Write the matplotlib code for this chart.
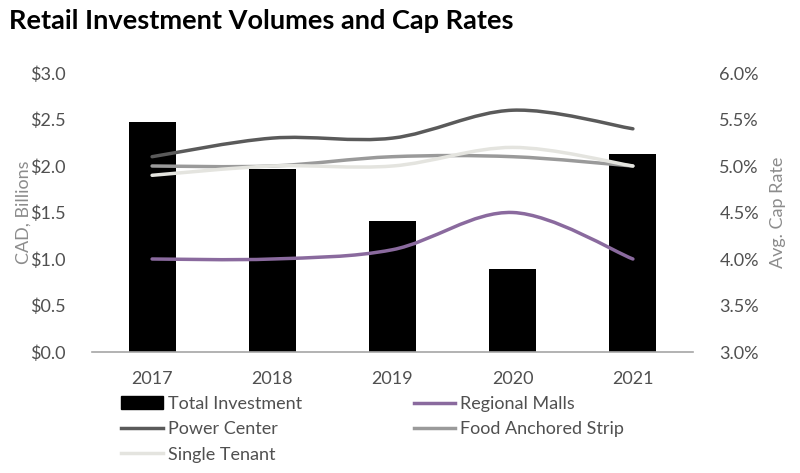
import numpy as np
import matplotlib.pyplot as plt
from matplotlib.path import Path
from matplotlib.patches import PathPatch
from matplotlib.lines import Line2D
from matplotlib.patches import Patch

plt.rcParams['font.family'] = ['Lato', 'DejaVu Sans']

years = ['2017', '2018', '2019', '2020', '2021']
total_investment = [2.47, 1.97, 1.41, 0.89, 2.13]
regional_malls = [4.0, 4.0, 4.1, 4.5, 4.0]
power_center = [5.1, 5.3, 5.3, 5.6, 5.4]
food_anchored = [5.0, 5.0, 5.1, 5.1, 5.0]
single_tenant = [4.9, 5.0, 5.0, 5.2, 5.0]

c_regional = '#8a6a9e'
c_power = '#5a5a5a'
c_food = '#9a9a9a'
c_single = '#e4e4df'
tick_col = '#505050'
label_col = '#8c8c8c'


def smooth_path(xs, ys):
    # Excel-style smoothed line as cubic Bezier segments through the points
    pts = np.column_stack([xs, ys]).astype(float)
    n = len(pts)
    verts = [pts[0]]
    codes = [Path.MOVETO]
    for i in range(n - 1):
        p0 = pts[max(i - 1, 0)]
        p1 = pts[i]
        p2 = pts[i + 1]
        p3 = pts[min(i + 2, n - 1)]
        c1 = p1 + (p2 - p0) / 6
        c2 = p2 - (p3 - p1) / 6
        verts += [c1, c2, p2]
        codes += [Path.CURVE4] * 3
    return Path(verts, codes)


fig = plt.figure(figsize=(8, 4.73), dpi=100)
ax = fig.add_axes([92 / 800, 1 - 352 / 473, 601 / 800, 279 / 473])
x = np.arange(len(years))
ax.bar(x, total_investment, width=0.39, color='black', zorder=2)
ax.set_xlim(-0.5, 4.5)
ax.set_ylim(0, 3.0)
ax.set_yticks(np.arange(0, 3.01, 0.5))
ax.set_yticklabels(['$%.1f' % v for v in np.arange(0, 3.01, 0.5)])
ax.set_xticks(x)
ax.set_xticklabels(years)
for s in ['top', 'right', 'left']:
    ax.spines[s].set_visible(False)
ax.spines['bottom'].set_color('#a6a6a6')
ax.spines['bottom'].set_linewidth(1.2)
ax.tick_params(axis='both', length=0, labelsize=13, colors=tick_col)
ax.tick_params(axis='y', pad=19)
ax.tick_params(axis='x', pad=14)
ax.set_ylabel('CAD, Billions', fontsize=13, color=label_col, labelpad=-1)

ax2 = ax.twinx()
ax2.set_ylim(3.0, 6.0)
ax2.set_yticks(np.arange(3.0, 6.01, 0.5))
ax2.set_yticklabels(['%.1f%%' % v for v in np.arange(3.0, 6.01, 0.5)])
for s in ax2.spines.values():
    s.set_visible(False)
ax2.tick_params(axis='y', length=0, labelsize=13, colors=tick_col, pad=19)
ax2.set_ylabel('Avg. Cap Rate', fontsize=13, color=label_col, labelpad=8)

series = [(regional_malls, c_regional), (food_anchored, c_food),
          (single_tenant, c_single), (power_center, c_power)]
for vals, col in series:
    ax2.add_patch(PathPatch(smooth_path(x, vals), facecolor='none',
                            edgecolor=col, linewidth=2.5, capstyle='round',
                            zorder=3))

fig.text(9 / 800, 1 - 21 / 473, 'Retail Investment Volumes and Cap Rates',
         fontsize=19.5, fontweight='bold', color='black', va='center')

handles = [Patch(color='black'),
           Line2D([], [], color=c_power, lw=2.5),
           Line2D([], [], color=c_single, lw=2.5),
           Line2D([], [], color=c_regional, lw=2.5),
           Line2D([], [], color=c_food, lw=2.5)]
labels = ['Total Investment', 'Power Center', 'Single Tenant',
          'Regional Malls', 'Food Anchored Strip']
leg = fig.legend(handles, labels, ncol=2, loc='upper left',
                 bbox_to_anchor=(121 / 800, 1 - 396 / 473), frameon=False,
                 fontsize=13, handlelength=2.3, handletextpad=0.28,
                 columnspacing=6.2, labelspacing=0.52, borderaxespad=0,
                 borderpad=0)
for t in leg.get_texts():
    t.set_color(tick_col)

fig.savefig('out.png', dpi=100)
